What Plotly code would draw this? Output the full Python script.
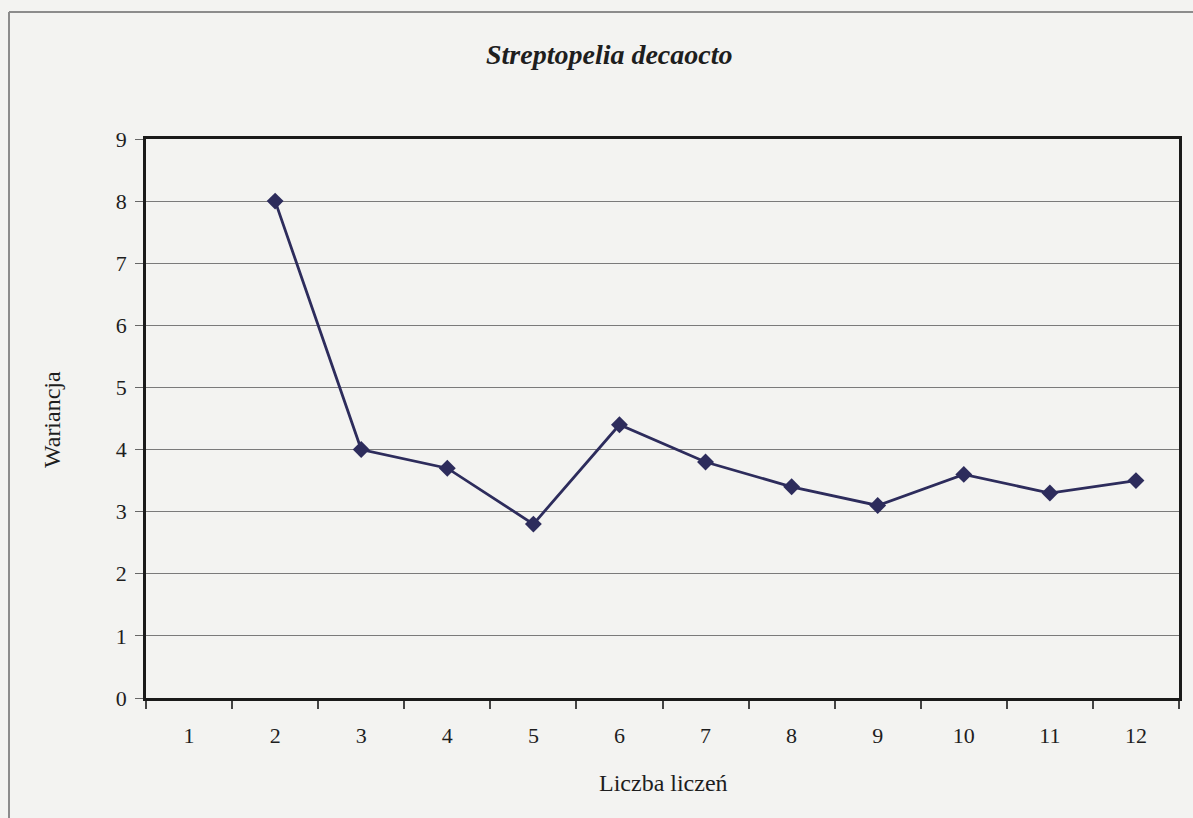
import plotly.graph_objects as go

# Number of counts (categories) and the variance for each
liczba_liczen = ["1", "2", "3", "4", "5", "6", "7", "8", "9", "10", "11", "12"]
wariancja = [None, 8.0, 4.0, 3.7, 2.8, 4.4, 3.8, 3.4, 3.1, 3.6, 3.3, 3.5]
y_ticks = [0, 1, 2, 3, 4, 5, 6, 7, 8, 9]

W, H = 1193, 818
ML, MR, MT, MB = 146, 14, 139, 120
PW, PH = W - ML - MR, H - MT - MB


def px_x(px):
    return (px - ML) / PW


def px_y(py):
    return (H - MB - py) / PH


SERIF = "Liberation Serif, Times New Roman, serif"
BG = "#f3f3f1"
INK = "#2d2c5c"

fig = go.Figure()
fig.add_trace(go.Scatter(
    x=liczba_liczen,
    y=wariancja,
    mode="lines+markers",
    line=dict(color=INK, width=2.8),
    marker=dict(symbol="diamond", size=13, color=INK),
    connectgaps=False,
    showlegend=False,
))

# outer chart frame (top and left edges)
frame = dict(type="line", xref="paper", yref="paper",
             line=dict(color="#8c8c8c", width=2))
fig.add_shape(**frame, x0=px_x(9), x1=px_x(1210), y0=px_y(12), y1=px_y(12))
fig.add_shape(**frame, x0=px_x(9), x1=px_x(9), y0=px_y(12), y1=px_y(830))

fig.add_annotation(
    text="<b><i>Streptopelia decaocto</i></b>",
    xref="paper", yref="paper", x=px_x(609), y=px_y(54),
    showarrow=False, xanchor="center", yanchor="middle",
    font=dict(family=SERIF, size=28, color="#1e1e1e"),
)
fig.add_annotation(
    text="Wariancja", textangle=-90,
    xref="paper", yref="paper", x=px_x(52), y=px_y(420),
    showarrow=False, xanchor="center", yanchor="middle",
    font=dict(family=SERIF, size=24, color="#1e1e1e"),
)
fig.add_annotation(
    text="Liczba liczeń",
    xref="paper", yref="paper", x=px_x(663), y=px_y(783),
    showarrow=False, xanchor="center", yanchor="middle",
    font=dict(family=SERIF, size=24, color="#1e1e1e"),
)

fig.update_layout(
    width=W, height=H,
    margin=dict(l=ML, r=MR, t=MT, b=MB, pad=0),
    paper_bgcolor=BG, plot_bgcolor=BG,
    font=dict(family=SERIF, size=22, color="#1e1e1e"),
)
fig.update_xaxes(
    type="category", categoryorder="array", categoryarray=liczba_liczen,
    range=[-0.5, len(liczba_liczen) - 0.5],
    tickson="boundaries", ticks="outside", ticklen=8, tickwidth=1.5,
    tickcolor="#444", showgrid=False, zeroline=False,
    showline=True, linecolor="#1a1a1a", linewidth=2.5, mirror=True,
    tickfont=dict(family=SERIF, size=22), ticklabelstandoff=16,
)
fig.update_yaxes(
    range=[0, 9], tickvals=y_ticks, ticks="outside", ticklen=8,
    tickwidth=1.2, tickcolor="#666",
    showgrid=True, gridcolor="#7a7a7a", gridwidth=1.2, zeroline=False,
    showline=True, linecolor="#1a1a1a", linewidth=2.5, mirror=True,
    tickfont=dict(family=SERIF, size=22), ticklabelstandoff=4,
)

fig.write_html("out.html")
